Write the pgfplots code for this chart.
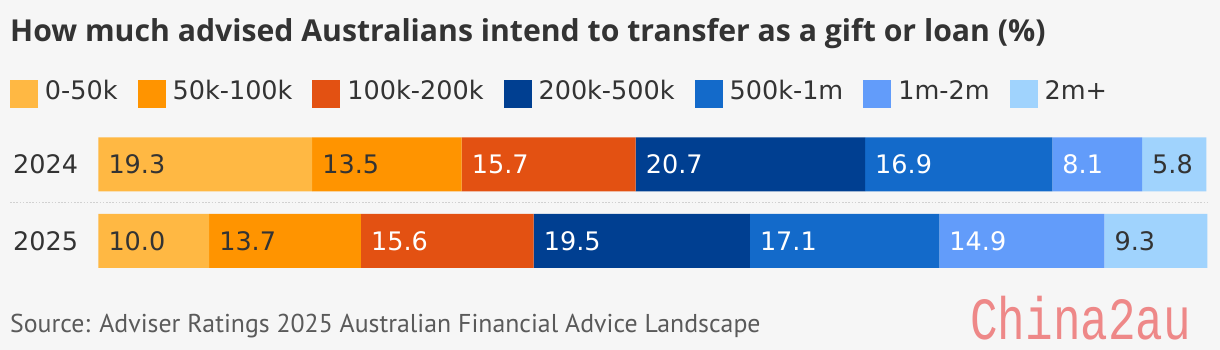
\documentclass[border=0pt]{standalone}
\usepackage{pgfplots}
\pgfplotsset{compat=1.18}
\usepackage{pgfplotstable}
\usepackage{fontspec}
\setmainfont{DejaVu Sans}
\newfontfamily\titlefont{Open Sans}
\newfontfamily\srcfont{PT Sans}
\newfontfamily\wmfont{Liberation Mono}
\definecolor{bg}{HTML}{F6F6F6}
\definecolor{txt}{HTML}{333333}
\definecolor{src}{HTML}{5A5A5A}
\definecolor{ca}{HTML}{FFB843}
\definecolor{cb}{HTML}{FF9400}
\definecolor{cc}{HTML}{E35112}
\definecolor{cd}{HTML}{003F91}
\definecolor{ce}{HTML}{136ACA}
\definecolor{cf}{HTML}{629CFA}
\definecolor{cg}{HTML}{A0D3FD}
\definecolor{wm}{HTML}{EE8888}

% segment values (y=1: 2024, y=0: 2025)
\pgfplotstableread{
y a b c d e f g
0 10.0 13.7 15.6 19.5 17.1 14.9 9.3
1 19.3 13.5 15.7 20.7 16.9 8.1 5.8
}\data

% label positions: start of each segment and its value
\pgfplotstableread{
y s v
1 0 19.3
0 0 10.0
}\la
\pgfplotstableread{
y s v
1 19.3 13.5
0 10.0 13.7
}\lb
\pgfplotstableread{
y s v
1 32.8 15.7
0 23.7 15.6
}\lc
\pgfplotstableread{
y s v
1 48.5 20.7
0 39.3 19.5
}\ld
\pgfplotstableread{
y s v
1 69.2 16.9
0 58.8 17.1
}\le
\pgfplotstableread{
y s v
1 86.1 8.1
0 75.9 14.9
}\lf
\pgfplotstableread{
y s v
1 94.2 5.8
0 90.8 9.3
}\lg

\pgfplotsset{
  seg/.style={fill=#1, draw=none,
    legend image code/.code={\fill[#1] (0pt,-17.5pt) rectangle (28pt,10.5pt);}},
  lab/.style={draw=none, mark=none, nodes near coords, point meta=explicit symbolic,
    nodes near coords style={text=#1}},
  common/.style={
    at={(98.3pt,70.975pt)}, anchor=south west,
    scale only axis, width=1108pt, height=152.7pt,
    xmin=0, xmax=100, ymin=-0.5, ymax=1.5, clip=false},
}

\begin{document}
\begin{tikzpicture}[x=1pt,y=1pt]
\fill[bg] (0,0) rectangle (1220,350);
\node[anchor=base west, inner sep=0pt, text=txt, font=\titlefont\bfseries\fontsize{30.2}{36}\selectfont] at (10,308.3) {How much advised Australians intend to transfer as a gift or loan (\%)};
\draw[line width=1.6pt, draw=black!18, dash pattern=on 1.6pt off 1.6pt] (10,147.3) -- (1207,147.3);
\begin{axis}[common,
  xbar stacked, bar width=54pt,
  axis line style={draw=none}, xtick=\empty, ytick={0,1}, yticklabels={2025,2024},
  major tick length=0pt,
  yticklabel style={anchor=east, inner sep=0pt, xshift=-20pt, text=txt, font=\fontsize{25.5}{30}\selectfont},
  legend columns=-1,
  legend style={at={(axis description cs:-0.07969,1.30337)}, anchor=north west, draw=none, fill=none, inner sep=0pt, outer sep=0pt, font=\fontsize{25.5}{30}\selectfont, text=txt, nodes={inner sep=0pt},
   /tikz/every odd column/.append style={column sep=7pt},
   /tikz/every even column/.append style={column sep=20pt}},
]
\addplot[seg=ca] table[x=a,y=y]{\data};
\addplot[seg=cb] table[x=b,y=y]{\data};
\addplot[seg=cc] table[x=c,y=y]{\data};
\addplot[seg=cd] table[x=d,y=y]{\data};
\addplot[seg=ce] table[x=e,y=y]{\data};
\addplot[seg=cf] table[x=f,y=y]{\data};
\addplot[seg=cg] table[x=g,y=y]{\data};
\legend{0-50k,50k-100k,100k-200k,200k-500k,500k-1m,1m-2m,2m+}
\end{axis}
\begin{axis}[common, hide axis,
  every node near coord/.append style={anchor=west, inner sep=0pt, xshift=10pt, font=\fontsize{25.5}{30}\selectfont}]
\addplot[lab=txt] table[x=s,y=y,meta=v]{\la};
\addplot[lab=txt] table[x=s,y=y,meta=v]{\lb};
\addplot[lab=white] table[x=s,y=y,meta=v]{\lc};
\addplot[lab=white] table[x=s,y=y,meta=v]{\ld};
\addplot[lab=white] table[x=s,y=y,meta=v]{\le};
\addplot[lab=white] table[x=s,y=y,meta=v]{\lf};
\addplot[lab=txt] table[x=s,y=y,meta=v]{\lg};
\end{axis}
\node[anchor=base west, inner sep=0pt, text=src, font=\srcfont\fontsize{25.8}{30}\selectfont] at (10,17.3) {Source: Adviser Ratings 2025 Australian Financial Advice Landscape};
\node[anchor=base west, inner sep=0pt, text=wm, font=\wmfont\fontsize{46}{50}\selectfont, yscale=1.3] at (970,10) {China2au};
\end{tikzpicture}
\end{document}
